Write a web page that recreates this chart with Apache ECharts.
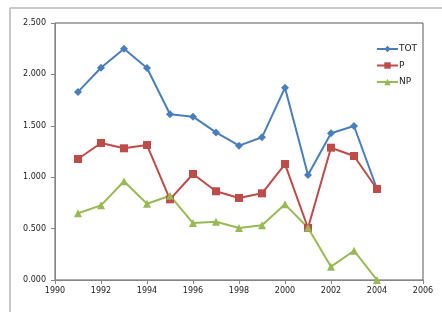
<!DOCTYPE html>
<html>
<head>
<meta charset="utf-8">
<script src="https://cdn.jsdelivr.net/npm/echarts@6/dist/echarts.min.js"></script>
<style>
  html, body { margin: 0; padding: 0; background: #ffffff; }
  #chart { width: 442px; height: 322px; }
</style>
</head>
<body>
<div id="chart"></div>
<script>
// Years on the horizontal axis
const years = [1991, 1992, 1993, 1994, 1995, 1996, 1997, 1998, 1999, 2000, 2001, 2002, 2003, 2004];
// Series values per year
const totValues = [1.83, 2.065, 2.25, 2.062, 1.612, 1.589, 1.436, 1.307, 1.388, 1.871, 1.021, 1.427, 1.498, 0.885];
const pValues   = [1.177, 1.333, 1.281, 1.313, 0.785, 1.031, 0.863, 0.798, 0.843, 1.128, 0.506, 1.287, 1.206, 0.885];
const npValues  = [0.649, 0.726, 0.960, 0.742, 0.820, 0.554, 0.567, 0.506, 0.532, 0.736, 0.509, 0.130, 0.285, 0.0];
const seriesNames = ['TOT', 'P', 'NP'];

const pair = (vals) => years.map((y, i) => [y, vals[i]]);

const chart = echarts.init(document.getElementById('chart'), null, { renderer: 'canvas' });
const font = 'DejaVu Sans';
const axisGray = '#868686';

function lineSeries(name, vals, color, symbol, size) {
  return {
    name: name,
    type: 'line',
    data: pair(vals),
    symbol: symbol,
    symbolSize: size,
    lineStyle: { color: color, width: 2 },
    itemStyle: { color: color },
    emphasis: { disabled: true },
    animation: false
  };
}

chart.setOption({
  animation: false,
  backgroundColor: '#ffffff',
  graphic: [
    { type: 'line', shape: { x1: 10, y1: 8, x2: 442, y2: 8 }, style: { stroke: '#c8c8c8', lineWidth: 2 }, silent: true },
    { type: 'line', shape: { x1: 10, y1: 8, x2: 10, y2: 312 }, style: { stroke: '#c8c8c8', lineWidth: 2 }, silent: true }
  ],
  grid: {
    left: 55, top: 23, right: 19, bottom: 42,
    show: true,
    borderColor: '#595959',
    borderWidth: 1,
    backgroundColor: 'transparent'
  },
  legend: {
    data: seriesNames,
    orient: 'vertical',
    left: 371,
    top: 39,
    itemWidth: 21,
    itemHeight: 8,
    itemGap: 6.5,
    textStyle: { fontFamily: font, fontSize: 9, color: '#1a1a1a', lineHeight: 10, padding: [0, 0, 0, -4] },
    selectedMode: false
  },
  xAxis: {
    type: 'value',
    min: 1990,
    max: 2006,
    interval: 2,
    axisLine: { show: true, lineStyle: { color: axisGray } },
    axisTick: { show: true, inside: false, length: 4, lineStyle: { color: axisGray } },
    splitLine: { show: false },
    axisLabel: { fontFamily: font, fontSize: 8, color: '#1a1a1a', margin: 7, formatter: (v) => String(v) }
  },
  yAxis: {
    type: 'value',
    min: 0,
    max: 2.5,
    interval: 0.5,
    axisLine: { show: true, lineStyle: { color: axisGray } },
    axisTick: { show: true, inside: false, length: 4, lineStyle: { color: axisGray } },
    splitLine: { show: false },
    axisLabel: { fontFamily: font, fontSize: 8, color: '#1a1a1a', margin: 9, formatter: (v) => v.toFixed(3) }
  },
  series: [
    lineSeries('TOT', totValues, '#4A7EBB', 'diamond', 8),
    lineSeries('P', pValues, '#BE4B48', 'rect', 8),
    lineSeries('NP', npValues, '#98B954', 'triangle', 8)
  ]
});
</script>
</body>
</html>
